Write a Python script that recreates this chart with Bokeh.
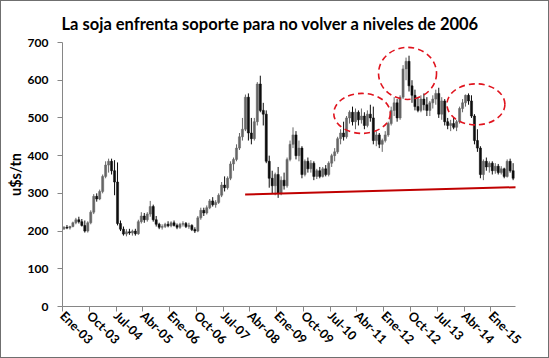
import numpy as np
from bokeh.plotting import figure
from bokeh.models import ColumnDataSource, Range1d, Title, Arrow, FixedTicker
from bokeh.embed import file_html
from bokeh.resources import INLINE

# Monthly OHLC, US$/tn, Jan-2003 .. Aug-2015
opens = [206,210,208,212,222,230,225,215,200,222,250,292,
         285,305,345,375,385,360,330,220,205,192,198,195,
         200,193,225,240,230,245,265,230,218,210,212,218,
         214,222,215,210,218,220,212,215,204,200,235,255,
         248,262,280,270,276,295,322,315,340,378,390,420,
         450,470,555,460,445,490,590,520,510,385,340,320,
         350,300,335,320,390,430,455,400,420,350,385,365,
         380,345,360,345,365,350,380,400,410,445,460,450,
         500,515,490,515,495,505,480,510,500,440,455,430,
         440,455,485,520,540,500,555,630,650,585,560,530,
         520,550,535,520,540,550,565,510,545,490,480,485,
         475,490,525,540,560,545,505,440,420,350,385,370,
         380,360,372,355,365,345,385,360]
highs = [213,216,214,225,235,238,232,228,226,255,298,300,
         310,350,385,392,392,388,382,228,212,205,206,204,
         206,230,250,248,250,280,270,240,222,218,222,226,
         226,228,220,222,226,224,222,218,210,240,262,262,
         268,285,290,282,300,330,345,345,385,395,430,460,
         500,562,565,500,500,595,612,540,520,400,360,355,
         370,345,355,395,440,475,465,440,425,390,395,388,
         385,365,370,370,375,385,405,420,450,470,490,505,
         520,530,525,520,525,515,520,535,530,465,460,445,
         465,490,530,555,550,560,640,660,665,600,575,555,
         560,565,555,545,560,575,580,555,550,500,495,500,
         495,530,550,562,565,560,510,470,425,390,395,385,
         385,380,378,372,368,390,392,380]
lows = [203,205,204,210,218,220,212,196,196,218,245,278,
        282,300,340,355,350,295,215,200,188,186,190,188,
        188,190,220,222,225,238,225,212,205,204,208,210,
        210,212,205,206,212,208,206,200,195,197,230,240,
        244,258,265,262,272,290,305,310,335,360,385,415,
        440,465,440,430,440,480,515,480,380,315,300,295,
        288,295,310,315,385,420,390,385,340,345,355,355,
        335,338,340,342,345,345,370,385,405,430,440,445,
        485,480,470,480,485,470,475,490,430,425,420,410,
        435,450,480,505,490,495,550,600,570,540,520,515,
        515,520,505,505,525,535,500,495,480,470,465,470,
        465,485,515,530,535,500,430,410,340,335,360,355,
        350,352,350,350,340,342,355,335]
closes = [210,208,212,222,230,225,215,200,222,250,292,285,
          305,345,375,385,360,330,220,205,192,198,195,200,
          193,225,240,230,245,265,230,218,210,212,218,214,
          222,215,210,218,220,212,215,204,200,235,255,248,
          262,280,270,276,295,322,315,340,378,390,420,450,
          470,555,460,445,490,590,520,510,385,340,320,350,
          300,335,320,390,430,455,400,420,350,385,365,380,
          345,360,345,365,350,380,400,410,445,460,450,500,
          515,490,515,495,505,480,510,500,440,455,430,440,
          455,485,520,540,500,555,630,650,585,560,530,520,
          550,535,520,540,550,565,510,545,490,480,485,475,
          490,525,540,560,545,505,440,420,350,385,370,380,
          360,372,355,365,345,385,360,340]

tick_pos = [0, 9, 18, 27, 36, 45, 54, 63, 72, 81, 90, 99, 108, 117, 126, 135, 144]
tick_labels = ["Ene-03", "Oct-03", "Jul-04", "Abr-05", "Ene-06", "Oct-06", "Jul-07",
               "Abr-08", "Ene-09", "Oct-09", "Jul-10", "Abr-11", "Ene-12", "Oct-12",
               "Jul-13", "Abr-14", "Ene-15"]

# annotation shapes (month index, price)
support_x = [61.4, 160.0]
support_y = [297, 318]
ell_x = [100.7, 116.0, 139.0]
ell_y = [512, 618, 536]
ell_w = [19.0, 19.5, 19.5]
ell_h = [106, 138, 109]

n = len(closes)
x = np.arange(n) + 0.5
o = np.array(opens); c = np.array(closes)
up = c >= o
src = ColumnDataSource(dict(
    x=x, o=o, c=c, h=np.array(highs), l=np.array(lows),
    top=np.maximum(o, c), bot=np.minimum(o, c),
    col=np.where(up, "#666666", "#0d0d0d"),
))

FONT = "Lato"
p = figure(width=549, height=358, output_backend="svg", toolbar_location=None,
           x_range=Range1d(0, 152.3), y_range=Range1d(0, 700),
           min_border_left=61, min_border_right=35, min_border_top=41, min_border_bottom=53)
p.styles = {"border": "1px solid #6f6f6f", "box-sizing": "border-box"}
p.outline_line_color = None
p.grid.visible = False
p.background_fill_color = "white"

p.segment(x0="x", y0="l", x1="x", y1="h", source=src, line_color="col", line_width=1)
p.vbar(x="x", top="top", bottom="bot", width=0.72, source=src,
       fill_color="col", line_color="col", line_width=0.5)

p.ellipse(x=ell_x, y=ell_y, width=ell_w, height=ell_h, fill_color=None,
          line_color="#e0141e", line_width=1.6, line_dash="6 4")
p.add_layout(Arrow(end=None, start=None, x_start=support_x[0], y_start=support_y[0],
                   x_end=support_x[1], y_end=support_y[1],
                   line_color="#c00000", line_width=2))

t = Title(text="La soja enfrenta soporte para no volver a niveles de 2006", align="left",
          offset=-1, text_font=FONT, text_font_size="16.5px", text_font_style="bold",
          text_color="black", standoff=18)
p.add_layout(t, "above")

p.xaxis.ticker = FixedTicker(ticks=tick_pos)
p.xaxis.major_label_overrides = {pos: lab for pos, lab in zip(tick_pos, tick_labels)}
p.xaxis.major_label_orientation = -np.pi / 4
p.xaxis.major_label_standoff = 2
p.yaxis.ticker = FixedTicker(ticks=list(range(0, 701, 100)))
p.yaxis.axis_label = "u$s/tn"
for ax in (p.xaxis, p.yaxis):
    ax.axis_line_color = "#868686"
    ax.major_tick_line_color = "#868686"
    ax.major_tick_out = 5
    ax.major_tick_in = 0
    ax.minor_tick_line_color = None
    ax.major_label_text_font = FONT
    ax.major_label_text_font_style = "bold"
    ax.major_label_text_color = "black"
p.xaxis.major_label_text_font_size = "12.5px"
p.yaxis.major_label_text_font_size = "12px"
p.yaxis.major_label_standoff = 9
p.yaxis.axis_label_text_font = FONT
p.yaxis.axis_label_text_font_style = "bold"
p.yaxis.axis_label_text_font_size = "14.5px"
p.yaxis.axis_label_text_color = "black"
p.yaxis.axis_label_standoff = 1

open("out.html", "w").write(file_html(p, INLINE))
